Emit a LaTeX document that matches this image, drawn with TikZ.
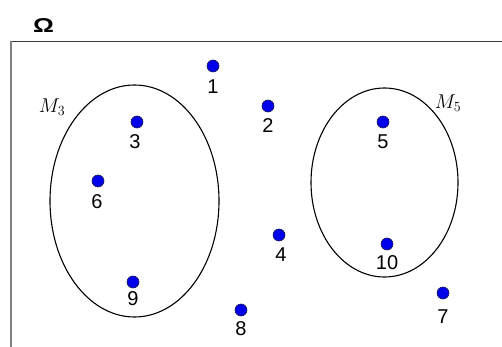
\RequirePackage{fix-cm}
\documentclass[tikz,border=0pt]{standalone}
\usepackage{fontspec}
\setsansfont{Liberation Sans}
\usepackage{tikz}
\usetikzlibrary{shapes.geometric, positioning}
\usepackage{xcolor}
\definecolor{dotcolor}{RGB}{0, 0, 235}
\definecolor{edgecolor}{RGB}{25, 25, 80}
\definecolor{framecolor}{RGB}{60, 60, 60}

\begin{document}
\begin{tikzpicture}[
    x=1pt, y=-1pt,
    node distance=7pt,
    % Node styles
    elem/.style={circle, minimum size=12pt, inner sep=0pt, draw=edgecolor, line width=0.6pt, fill=dotcolor},
    num/.style={inner sep=0pt, font=\sffamily\fontsize{20}{20}\selectfont},
    set/.style={ellipse, draw=black, line width=1.1pt, inner sep=0pt},
    setname/.style={inner sep=0pt, font=\fontsize{20}{20}\selectfont},
]
\useasboundingbox (0,0) rectangle (502,347);

% Universe frame
\coordinate (corner) at (11,41.5);
\draw [framecolor, line width=1.4pt] (corner) -- (502,41.5);
\draw [gray, line width=1.6pt] (corner) -- (11,347);
\node (omega) [num, font=\sffamily\bfseries\fontsize{20}{20}\selectfont, xscale=1.3] at (43.5,26) {Ω};

% Sets
\node (setA) [set, minimum width=169pt, minimum height=232pt] at (134.5,201) {};
\node (setB) [set, minimum width=147pt, minimum height=189pt] at (384.5,182.5) {};
\node (nameA) [setname] at (52,107) {$M_3$};
\node (nameB) [setname] at (448,103) {$M_5$};

% Elements
\node (p1) [elem] at (213,66) {};
\node (p2) [elem] at (268,106) {};
\node (p3) [elem] at (137,122) {};
\node (p4) [elem] at (279,235) {};
\node (p5) [elem] at (383,122) {};
\node (p6) [elem] at (98,181) {};
\node (p7) [elem] at (443,293) {};
\node (p8) [elem] at (241,310) {};
\node (p9) [elem] at (133,282) {};
\node (p10) [elem] at (387,244) {};

% Element labels
\node (l1) [num, below=of p1] {1};
\node (l2) [num, below=6pt of p2] {2};
\node (l3) [num, below=6pt of p3, xshift=-2pt] {3};
\node (l4) [num, below=6pt of p4, xshift=2pt] {4};
\node (l5) [num, below=6pt of p5] {5};
\node (l6) [num, below=of p6, xshift=-1pt] {6};
\node (l7) [num, below=10pt of p7] {7};
\node (l8) [num, below=5pt of p8] {8};
\node (l9) [num, below=3pt of p9] {9};
\node (l10) [num, below=5pt of p10] {10};

\end{tikzpicture}
\end{document}
